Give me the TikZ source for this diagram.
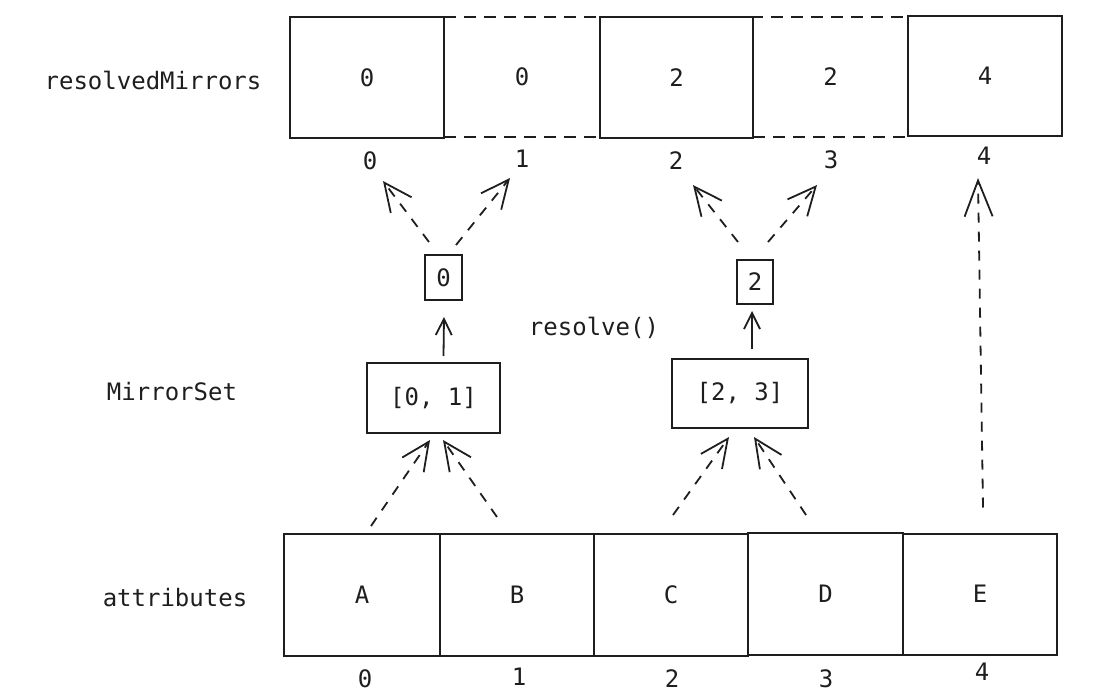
\documentclass[tikz,border=0pt]{standalone}
\usepackage{fontspec}
\setmonofont{DejaVu Sans Mono}
\usetikzlibrary{arrows.meta}
\definecolor{ink}{HTML}{1E1E1E}
\begin{document}
\begin{tikzpicture}[x=1pt,y=-1pt,
  every node/.style={font=\ttfamily\fontsize{24}{28}\selectfont, text=ink, inner sep=0pt},
  cell/.style={draw=ink, line width=2pt, minimum width=154pt, minimum height=121pt},
  dcell/.style={cell, dash pattern=on 12pt off 8pt},
  setbox/.style={draw=ink, line width=2pt, minimum width=134pt, minimum height=70pt},
  valbox/.style={draw=ink, line width=2pt, minimum width=37pt, minimum height=45pt},
  lbl/.style={},
  bigarr/.style={draw=ink, line width=1.8pt, dash pattern=on 10pt off 9pt, -{Straight Barb[length=28pt,width=26pt]}},
  smallarr/.style={draw=ink, line width=1.8pt, -{Straight Barb[length=16pt,width=16pt]}}
]
\useasboundingbox (0,0) rectangle (1111,699);

% row labels
\node[lbl] (lres) at (153,80) {resolvedMirrors};
\node[lbl] (lms) at (172,392) {MirrorSet};
\node[lbl] (latt) at (175,598) {attributes};
\node[lbl] (lresolve) at (594,328) {resolve()};

% top row
\node[dcell, minimum width=156pt, minimum height=120pt] (r1) at (522,77) {0};
\node[dcell, minimum width=155pt, minimum height=120pt] (r3) at (830.5,77) {2};
\node[cell] (r0) at (367,77.5) {0};
\node[cell, minimum width=153pt] (r2) at (676.5,77.5) {2};
\node[cell, minimum height=120pt] (r4) at (985,76) {4};

\node (i0) at (370,161) {0};
\node (i1) at (522,159) {1};
\node (i2) at (676,161) {2};
\node (i3) at (831,160) {3};
\node (i4) at (984,156) {4};

% bottom row
\node[cell, minimum width=156pt, minimum height=122pt] (a) at (362,595) {A};
\node[cell, minimum height=122pt] (b) at (517,595) {B};
\node[cell, minimum height=122pt] (c) at (671,595) {C};
\node[cell, minimum width=155pt, minimum height=122pt] (d) at (825.5,594) {D};
\node[cell] (e) at (980,594) {E};

\node (j0) at (365,679) {0};
\node (j1) at (519,677) {1};
\node (j2) at (672,679) {2};
\node (j3) at (826,679) {3};
\node (j4) at (982,672) {4};

% mirror sets
\node[setbox, minimum width=133pt] (m1) at (433.5,398) {[0, 1]};
\node[setbox, minimum width=136pt, minimum height=69pt] (m2) at (740,393.5) {[2, 3]};

% resolved values
\node[valbox] (s1) at (443.5,277.5) {0};
\node[valbox, minimum width=36pt, minimum height=44pt] (s2) at (755,282) {2};

% attributes -> mirror sets
\draw[bigarr] ([xshift=9pt,yshift=7pt]a.north) -- ([xshift=-3.5pt,yshift=-6pt]m1.south);
\draw[bigarr] ([xshift=-20pt,yshift=16pt]b.north) -- ([xshift=9.5pt,yshift=-6pt]m1.south);
\draw[bigarr] ([xshift=2pt,yshift=18pt]c.north) -- ([xshift=-11pt,yshift=-8pt]m2.south);
\draw[bigarr] ([xshift=-19.5pt,yshift=17pt]d.north) -- ([xshift=14pt,yshift=-8pt]m2.south);

% mirror sets -> resolved values
\draw[smallarr] ([xshift=10pt,yshift=6pt]m1.north) -- ([xshift=0.5pt,yshift=-16pt]s1.south);
\draw[smallarr] ([xshift=12pt,yshift=9pt]m2.north) -- ([xshift=-3pt,yshift=-6pt]s2.south);

% resolved values -> resolvedMirrors indices
\draw[bigarr] ([xshift=-14.5pt,yshift=12pt]s1.north) -- ([xshift=13pt,yshift=-20pt]i0.center);
\draw[bigarr] ([xshift=12.5pt,yshift=9pt]s1.north) -- ([xshift=-12pt,yshift=-19pt]i1.center);
\draw[bigarr] ([xshift=-17pt,yshift=17pt]s2.north) -- ([xshift=17pt,yshift=-24pt]i2.center);
\draw[bigarr] ([xshift=13pt,yshift=17pt]s2.north) -- ([xshift=-14pt,yshift=-25pt]i3.center);

% E -> 4
\draw[bigarr, -{Straight Barb[length=36pt,width=28pt]}] ([xshift=3pt,yshift=25pt]e.north) -- ([xshift=-6pt,yshift=-22pt]i4.center);
\end{tikzpicture}
\end{document}
